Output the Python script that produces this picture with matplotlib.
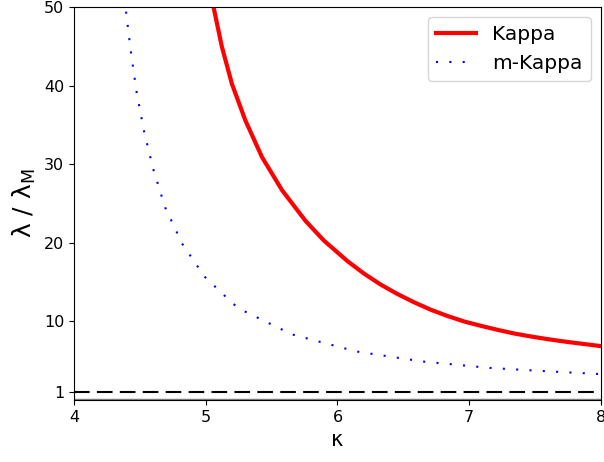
import matplotlib.pyplot as plt

# values
kappa_k = [5.059, 5.123, 5.199, 5.300, 5.427, 5.579, 5.757, 5.896, 6.074, 6.2, 6.327,
           6.454, 6.58, 6.707, 6.834, 6.961, 7.087, 7.214, 7.341, 7.468, 7.595, 7.721, 8.0]
ratio_k = [50.0, 44.9, 40.2, 35.6, 30.9, 26.7, 22.8, 20.3, 17.7, 16.1, 14.7,
           13.5, 12.45, 11.5, 10.7, 10.0, 9.45, 8.94, 8.47, 8.09, 7.75, 7.45, 6.86]

kappa_m = [4.395, 4.431, 4.474, 4.530, 4.601, 4.692, 4.821, 4.991, 5.211, 5.293,
           5.655, 6.144, 6.644, 7.15, 7.5, 8.0]
ratio_m = [49.4, 44.4, 39.3, 34.3, 29.4, 24.5, 19.9, 15.7, 12.2, 11.3,
           8.35, 6.18, 4.91, 4.1, 3.75, 3.3]

xticks = [4, 5, 6, 7, 8]
yticks = [1, 10, 20, 30, 40, 50]

fig = plt.figure(figsize=(6.04, 4.62), dpi=100)
ax = fig.add_axes([0.1225, 0.134, 0.8725, 0.851])

ax.plot(kappa_k, ratio_k, color='red', lw=3, label='Kappa')
ax.plot(kappa_m, ratio_m, color='blue', lw=1.5, linestyle=(0, (1, 5.4)), label='m-Kappa')
ax.axhline(1, color='black', lw=1.5, linestyle=(0, (7.5, 3.5)))
ax.axhline(0, color='gray', lw=2.5)

ax.set_xlim(4, 8)
ax.set_ylim(0, 50)
ax.set_xticks(xticks)
ax.set_yticks(yticks)
ax.tick_params(labelsize=11.5)
ax.set_xlabel('κ', fontsize=15)
ax.set_ylabel('λ / λ$_\\mathregular{M}$', fontsize=18)
ax.legend(loc='upper right', fontsize=14.5)

fig.savefig('out.png', dpi=100)
